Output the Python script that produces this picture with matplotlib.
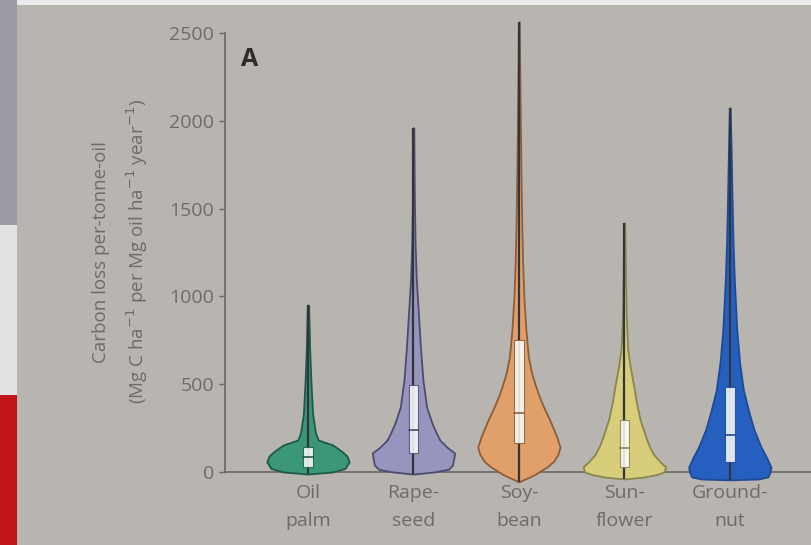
import numpy as np
import matplotlib
matplotlib.use("Agg")
import matplotlib.pyplot as plt
from matplotlib.patches import Rectangle

# ------------------- Data -------------------
crops = ["Oil\npalm", "Rape-\nseed", "Soy-\nbean", "Sun-\nflower", "Ground-\nnut"]

# violin outline: carbon-loss level and relative density (1 = widest)
oil_y = [-12, 0, 20, 57, 90, 114, 135, 154, 170, 182, 210, 239, 336, 524, 700, 950]
oil_d = [0, 0.6, 0.9, 1.0, 0.95, 0.84, 0.72, 0.6, 0.4, 0.25, 0.2, 0.17, 0.11, 0.07, 0.04, 0.015]

rape_y = [-12, 0, 15, 40, 75, 108, 140, 182, 230, 279, 370, 524, 712, 905, 1093, 1300, 1600, 1960]
rape_d = [0, 0.5, 0.85, 0.95, 0.98, 1.0, 0.82, 0.64, 0.54, 0.45, 0.32, 0.23, 0.17, 0.12, 0.07, 0.04, 0.02, 0.01]

soy_y = [-57, -40, -28, -10, 10, 28, 60, 100, 142, 200, 296, 360, 427, 500, 563, 655, 808,
         1000, 1200, 1400, 1700, 2000, 2300, 2563]
soy_d = [0, 0.15, 0.27, 0.42, 0.55, 0.68, 0.84, 0.95, 1.0, 0.92, 0.75, 0.62, 0.5, 0.39, 0.31,
         0.23, 0.17, 0.12, 0.09, 0.07, 0.05, 0.035, 0.02, 0.01]

sun_y = [-40, -30, -15, 0, 30, 60, 100, 150, 200, 300, 400, 500, 600, 700, 900, 1100, 1418]
sun_d = [0, 0.45, 0.78, 0.97, 1.0, 0.86, 0.71, 0.6, 0.52, 0.38, 0.29, 0.22, 0.14, 0.08, 0.045, 0.03, 0.01]

gnut_y = [-45, -40, -28, 0, 28, 80, 142, 239, 336, 467, 620, 808, 997, 1093, 1300, 1500, 1800, 2073]
gnut_d = [0, 0.7, 0.93, 0.98, 1.0, 0.9, 0.76, 0.59, 0.47, 0.33, 0.24, 0.17, 0.13, 0.11, 0.08, 0.06, 0.035, 0.01]

profiles_y = [oil_y, rape_y, soy_y, sun_y, gnut_y]
profiles_d = [oil_d, rape_d, soy_d, sun_d, gnut_d]

# box statistics
q1 = [28, 108, 165, 28, 57]
median = [85, 239, 338, 137, 211]
q3 = [142, 495, 752, 296, 484]

fills = ["#3c9678", "#9794be", "#e1a069", "#d8cd7a", "#2560c0"]
edges = ["#1f5a48", "#4d4c70", "#8b5e3c", "#8a8650", "#1f4a96"]

bg = "#b8b4b0"
txt = "#6f6b67"

# ------------------- Figure -------------------
fig = plt.figure(figsize=(8.11, 5.45), dpi=100, facecolor=bg)
plt.rcParams["font.family"] = ["Open Sans", "DejaVu Sans"]

# page edge artefacts of the photo
fig.add_artist(Rectangle((0, 1 - 5 / 545), 1, 5 / 545, transform=fig.transFigure,
                         color="#ebebeb", lw=0))
fig.add_artist(Rectangle((0, 1 - 226 / 545), 17 / 811, 226 / 545, transform=fig.transFigure,
                         color="#9b9ba3", lw=0))
fig.add_artist(Rectangle((0, 150 / 545), 17 / 811, 170 / 545, transform=fig.transFigure,
                         color="#e2e2e2", lw=0))
fig.add_artist(Rectangle((0, 0), 17 / 811, 150 / 545, transform=fig.transFigure,
                         color="#c0141a", lw=0))

ax = fig.add_axes([225 / 811, 59 / 545, 586 / 811, 474 / 545])
ax.set_facecolor("none")

half = 0.39
for i in range(len(crops)):
    y = np.array(profiles_y[i])
    d = np.array(profiles_d[i])
    ax.fill_betweenx(y, i - d * half, i + d * half, facecolor=fills[i],
                     edgecolor=edges[i], lw=1.3, zorder=2)
    # whisker line
    ax.plot([i, i], [y[0], y[-1]], color="#34343c", lw=1.6, zorder=3,
            solid_capstyle="butt")
    # inner box
    ax.add_patch(Rectangle((i - 0.045, q1[i]), 0.09, q3[i] - q1[i], facecolor="white",
                           edgecolor=edges[i], lw=0.8, alpha=0.85, zorder=4))
    ax.plot([i - 0.045, i + 0.045], [median[i], median[i]], color=edges[i], lw=1.2, zorder=5)

ax.set_xlim(-0.787, 4.77)
ax.set_ylim(-80, 2620)

ax.spines["top"].set_visible(False)
ax.spines["right"].set_visible(False)
ax.spines["left"].set_bounds(0, 2500)
ax.spines["bottom"].set_position(("data", 0))
for s in ["left", "bottom"]:
    ax.spines[s].set_color("#6a6662")
    ax.spines[s].set_linewidth(1.2)
ax.spines["bottom"].set_zorder(1)

ax.set_yticks(np.arange(0, 2501, 500))
ax.set_xticks(range(len(crops)))
ax.set_xticklabels(crops, linespacing=1.65)
ax.tick_params(axis="y", length=4, width=1, color="#6a6662", labelsize=14,
               labelcolor=txt, pad=4)
ax.tick_params(axis="x", length=0, labelsize=14, labelcolor=txt, pad=9)

fig.text(121 / 811, 1 - 252 / 545,
         "Carbon loss per-tonne-oil\n(Mg C ha$^{-1}$ per Mg oil ha$^{-1}$ year$^{-1}$)",
         rotation=90, ha="center", va="center", fontsize=13.5, color=txt, linespacing=1.7)

fig.text(250 / 811, 1 - 60 / 545, "A", fontsize=18, fontweight="bold", color="#2e2c2a",
         ha="center", va="center")

fig.savefig("out.png", dpi=100, facecolor=bg)
